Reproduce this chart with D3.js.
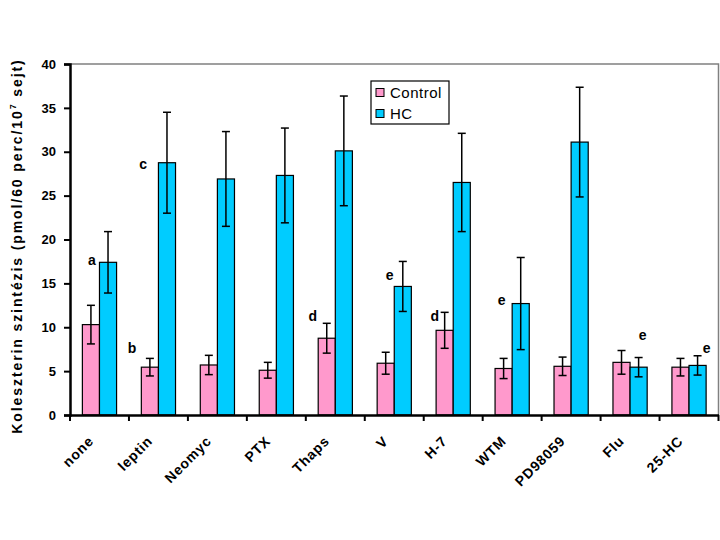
<!DOCTYPE html>
<html>
<head>
<meta charset="utf-8">
<script src="https://cdn.jsdelivr.net/npm/d3@7"></script>
<style>
  html, body { margin: 0; padding: 0; background: #fff; }
  svg { display: block; font-family: Arial, "Liberation Sans", Helvetica, sans-serif; }
</style>
</head>
<body>
<svg id="chart" width="720" height="540"></svg>
<script>
// ---- data ----
const categories = ["none", "leptin", "Neomyc", "PTX", "Thaps", "V", "H-7", "WTM", "PD98059", "Flu", "25-HC"];
const seriesNames = ["Control", "HC"];
const controlValues = [10.3, 5.45, 5.7, 5.1, 8.75, 5.9, 9.65, 5.3, 5.55, 6.0, 5.45];
const controlErrors = [2.2, 1.0, 1.1, 0.9, 1.7, 1.25, 2.05, 1.15, 1.05, 1.35, 1.0];
const hcValues = [17.4, 28.75, 26.9, 27.3, 30.1, 14.65, 26.5, 12.7, 31.1, 5.45, 5.65];
const hcErrors = [3.5, 5.75, 5.4, 5.4, 6.25, 2.85, 5.6, 5.25, 6.25, 1.1, 1.1];
const yTicks = [0, 5, 10, 15, 20, 25, 30, 35, 40];
const annoLetters = ["a", "b", "c", "d", "e", "d", "e", "e", "e"];
const annoCats = ["none", "leptin", "leptin", "Thaps", "V", "H-7", "WTM", "Flu", "25-HC"];
const annoValues = [17.66, 7.67, 28.66, 11.32, 15.95, 11.28, 13.11, 9.12, 7.64];

// ---- layout ----
const colors = ["#FF99CC", "#00CCFF"];
const mLeft = 70, mRight = 718.5, mTop = 64, mBottom = 415;
const svg = d3.select("#chart");

const x = d3.scaleBand().domain(categories).range([mLeft, mRight]).paddingInner(0).paddingOuter(0);
const bw = x.bandwidth();
const barW = bw * 0.29;
const groupOffset = (bw - 2 * barW) / 2;
const xs = d3.scaleBand().domain(seriesNames).range([groupOffset, groupOffset + 2 * barW]);
const y = d3.scaleLinear().domain([0, 40]).range([mBottom, mTop]);

// plot border (gray)
svg.append("path")
  .attr("d", `M${mLeft},${mTop}H${mRight}V${mBottom}`)
  .attr("fill", "none").attr("stroke", "#808080").attr("stroke-width", 1.5);

const rows = categories.map((c, i) => ({
  cat: c,
  vals: [
    { s: "Control", v: controlValues[i], e: controlErrors[i], color: colors[0] },
    { s: "HC", v: hcValues[i], e: hcErrors[i], color: colors[1] }
  ]
}));

const g = svg.append("g");
rows.forEach(r => {
  r.vals.forEach(d => {
    const x0 = x(r.cat) + xs(d.s);
    g.append("rect")
      .attr("x", x0).attr("y", y(d.v))
      .attr("width", xs.bandwidth()).attr("height", y(0) - y(d.v))
      .attr("fill", d.color).attr("stroke", "#000").attr("stroke-width", 1.2);
  });
});
// error bars
rows.forEach(r => {
  r.vals.forEach(d => {
    const cx = x(r.cat) + xs(d.s) + xs.bandwidth() / 2;
    const y1 = y(d.v + d.e), y2 = y(d.v - d.e);
    const eg = g.append("g").attr("stroke", "#000").attr("stroke-width", 1.5);
    eg.append("line").attr("x1", cx).attr("x2", cx).attr("y1", y1).attr("y2", y2);
    eg.append("line").attr("x1", cx - 4).attr("x2", cx + 4).attr("y1", y1).attr("y2", y1);
    eg.append("line").attr("x1", cx - 4).attr("x2", cx + 4).attr("y1", y2).attr("y2", y2);
  });
});

// y axis
const yAxis = d3.axisLeft(y).tickValues(yTicks).tickSize(6).tickPadding(8).tickFormat(d3.format("d"));
const yg = svg.append("g").attr("transform", `translate(${mLeft},0)`).call(yAxis);
yg.select(".domain").attr("stroke", "#000").attr("stroke-width", 2.5);
yg.selectAll(".tick line").attr("stroke", "#000").attr("stroke-width", 2);
yg.selectAll(".tick text").attr("font-size", 13).attr("font-weight", "bold").attr("fill", "#000")
  .attr("font-family", "Arial, 'Liberation Sans', sans-serif");

// x axis
const xAxis = d3.axisBottom(x).tickSize(0).tickFormat("");
const xg = svg.append("g").attr("transform", `translate(0,${mBottom})`).call(xAxis);
xg.select(".domain").attr("stroke", "#000").attr("stroke-width", 2.5);
// ticks at band boundaries
const boundaries = categories.map(c => x(c)).concat([mRight]);
svg.append("g").selectAll("line").data(boundaries).join("line")
  .attr("x1", d => d).attr("x2", d => d).attr("y1", mBottom).attr("y2", mBottom + 6)
  .attr("stroke", "#000").attr("stroke-width", 2);
// x labels (rotated -45deg)
svg.append("g").selectAll("text").data(categories).join("text")
  .attr("transform", d => "translate(" + (x(d) + bw / 2 - 5).toFixed(2) + ",442) rotate(-45)")
  .attr("text-anchor", "end")
  .attr("font-size", 14).attr("font-weight", "bold").attr("fill", "#000")
  .style("letter-spacing", "0.8px")
  .text(d => d);

// y title
const yt = svg.append("text")
  .attr("transform", "translate(22,246) rotate(-90)")
  .attr("text-anchor", "middle")
  .attr("font-size", 14).attr("font-weight", "bold").attr("fill", "#000")
  .style("letter-spacing", "1.9px");
yt.append("tspan").text("Koleszterin szintézis (pmol/60 perc/10");
yt.append("tspan").attr("font-size", 9).attr("dy", -6).text("7");
yt.append("tspan").attr("dy", 6).text(" sejt)");

// annotation letters
const annoDx = [22, 3, 14.3, 7, 25, 11, 19, 42, 47];
svg.append("g").selectAll("text").data(annoLetters).join("text")
  .attr("x", (d, i) => x(annoCats[i]) + annoDx[i])
  .attr("y", (d, i) => y(annoValues[i]) + 5)
  .attr("text-anchor", "middle")
  .attr("font-size", 14).attr("font-weight", "bold").attr("fill", "#000")
  .text(d => d);

// legend
const lg = svg.append("g");
lg.append("rect").attr("x", 371).attr("y", 81).attr("width", 78).attr("height", 43)
  .attr("fill", "#fff").attr("stroke", "#000").attr("stroke-width", 1.2);
seriesNames.forEach((s, i) => {
  lg.append("rect").attr("x", 376).attr("y", 88.5 + i * 21).attr("width", 8).attr("height", 8)
    .attr("fill", colors[i]).attr("stroke", "#000").attr("stroke-width", 1);
  lg.append("text").attr("x", 390).attr("y", 98 + i * 21)
    .attr("font-size", 15).attr("fill", "#000").style("letter-spacing", "0.5px").text(s);
});
</script>
</body>
</html>
